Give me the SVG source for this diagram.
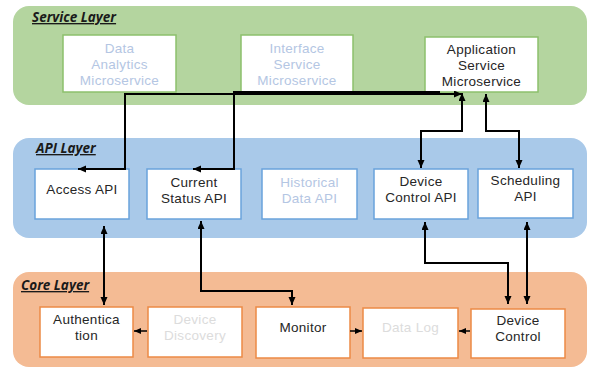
<svg xmlns="http://www.w3.org/2000/svg" width="590" height="370" viewBox="0 0 590 370">
  <defs>
    <marker id="arrow" markerUnits="userSpaceOnUse" markerWidth="10" markerHeight="8" refX="8" refY="3.5" orient="auto-start-reverse">
      <path d="M0,0 L8,3.5 L0,7 z" fill="#000"/>
    </marker>
    <marker id="arrowSmall" markerUnits="userSpaceOnUse" markerWidth="9" markerHeight="8" refX="7" refY="3" orient="auto-start-reverse">
      <path d="M0,0 L7,3 L0,6 z" fill="#000"/>
    </marker>
  </defs>
  <style>
    text { font-family: "Liberation Sans", Arial, sans-serif; font-size: 13.5px; letter-spacing: 0.3px; fill: #262626; text-anchor: middle; }
    .title { font-family: "Open Sans", "Noto Sans", sans-serif; font-size: 13.5px; letter-spacing: 0; font-weight: bold; font-style: italic; text-decoration: underline; text-anchor: start; fill: #1a1a1a; }
    .faded { fill: #b4c6e3; }
    .fadedCore { fill: #dcdcdc; }
    .svc { fill: #fff; stroke: #8cc06c; stroke-width: 1.5; }
    .api { fill: #fff; stroke: #6aa3db; stroke-width: 1.5; }
    .core { fill: #fff; stroke: #ec8a45; stroke-width: 1.5; }
    .link { fill: none; stroke: #000; stroke-width: 2; }
    .linkSmall { fill: none; stroke: #000; stroke-width: 1.5; }
  </style>

  <!-- layer bands -->
  <g id="service-layer">
    <rect x="13" y="6" width="574" height="99" rx="16" fill="#b4d59f"/>
    <text class="title" x="32" y="22">Service Layer</text>
  </g>
  <g id="api-layer">
    <rect x="13" y="138" width="574" height="100" rx="16" fill="#a9c9e9"/>
    <text class="title" x="36" y="153">API Layer</text>
  </g>
  <g id="core-layer">
    <rect x="13" y="272" width="574" height="95" rx="16" fill="#f4bb94"/>
    <text class="title" x="21" y="290">Core Layer</text>
  </g>

  <!-- service layer nodes -->
  <g id="data-analytics">
    <rect class="svc" x="63" y="35" width="113" height="57"/>
    <text class="faded" x="119.5" y="53">Data</text>
    <text class="faded" x="119.5" y="69">Analytics</text>
    <text class="faded" x="119.5" y="85">Microservice</text>
  </g>
  <g id="interface-service">
    <rect class="svc" x="241" y="35" width="112" height="57"/>
    <text class="faded" x="297" y="53">Interface</text>
    <text class="faded" x="297" y="69">Service</text>
    <text class="faded" x="297" y="85">Microservice</text>
  </g>
  <g id="application-service">
    <rect class="svc" x="425" y="37" width="113" height="55"/>
    <text x="481.5" y="54">Application</text>
    <text x="481.5" y="70">Service</text>
    <text x="481.5" y="86">Microservice</text>
  </g>

  <!-- API layer nodes -->
  <g id="access-api">
    <rect class="api" x="35" y="169" width="94" height="50"/>
    <text x="82" y="194">Access API</text>
  </g>
  <g id="current-status-api">
    <rect class="api" x="147" y="169" width="94" height="50"/>
    <text x="194" y="187">Current</text>
    <text x="194" y="203">Status API</text>
  </g>
  <g id="historical-data-api">
    <rect class="api" x="262" y="169" width="95" height="50"/>
    <text class="faded" x="309.5" y="187">Historical</text>
    <text class="faded" x="309.5" y="203">Data API</text>
  </g>
  <g id="device-control-api">
    <rect class="api" x="374" y="169" width="94" height="50"/>
    <text x="421" y="186">Device</text>
    <text x="421" y="202">Control API</text>
  </g>
  <g id="scheduling-api">
    <rect class="api" x="478" y="169" width="95" height="49"/>
    <text x="525.5" y="185">Scheduling</text>
    <text x="525.5" y="201">API</text>
  </g>

  <!-- core layer nodes -->
  <g id="authentication">
    <rect class="core" x="40" y="307" width="93" height="50"/>
    <text x="86.5" y="324">Authentica</text>
    <text x="86.5" y="340">tion</text>
  </g>
  <g id="device-discovery">
    <rect class="core" x="148" y="307" width="94" height="50"/>
    <text class="fadedCore" x="195" y="324">Device</text>
    <text class="fadedCore" x="195" y="340">Discovery</text>
  </g>
  <g id="monitor">
    <rect class="core" x="256" y="307" width="94" height="51"/>
    <text x="303" y="332">Monitor</text>
  </g>
  <g id="data-log">
    <rect class="core" x="363" y="308" width="95" height="50"/>
    <text class="fadedCore" x="410.5" y="332">Data Log</text>
  </g>
  <g id="device-control">
    <rect class="core" x="471" y="309" width="94" height="49"/>
    <text x="518" y="325">Device</text>
    <text x="518" y="341">Control</text>
  </g>

  <!-- connectors -->
  <g id="connectors">
    <path class="link" d="M78,169 H125 V94 H462" marker-start="url(#arrow)" marker-end="url(#arrow)"/>
    <path class="link" d="M193,169 H234 V92 H440" marker-start="url(#arrow)"/>
    <path class="link" d="M462,93 V131 H421 V168" marker-start="url(#arrow)" marker-end="url(#arrow)"/>
    <path class="link" d="M486,94 V131 H519 V168" marker-start="url(#arrow)" marker-end="url(#arrow)"/>
    <path class="link" d="M104,226 V305" marker-start="url(#arrow)" marker-end="url(#arrow)"/>
    <path class="link" d="M201,221 V291 H292 V305" marker-start="url(#arrow)" marker-end="url(#arrow)"/>
    <path class="link" d="M425,222 V263 H508 V304" marker-start="url(#arrow)" marker-end="url(#arrow)"/>
    <path class="link" d="M527,222 V304" marker-start="url(#arrow)" marker-end="url(#arrow)"/>
    <path class="linkSmall" d="M147,331 H134" marker-end="url(#arrowSmall)"/>
    <path class="linkSmall" d="M350,331 H362" marker-end="url(#arrowSmall)"/>
    <path class="linkSmall" d="M470,331 H459" marker-end="url(#arrowSmall)"/>
  </g>
</svg>
